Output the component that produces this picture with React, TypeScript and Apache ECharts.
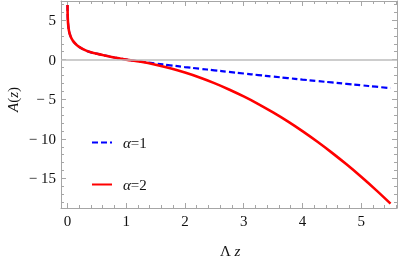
import React, { useEffect, useRef } from "react";
import * as echarts from "echarts";

// z values (Λz) sampled along the curves
const zSmall = [0.001, 0.002, 0.005, 0.01, 0.02, 0.035, 0.05, 0.075, 0.1, 0.15, 0.2, 0.3, 0.4, 0.5, 0.6, 0.7, 0.8, 0.9, 1.0];
const aSmall = [6.9, 6.2, 5.3, 4.6, 3.9, 3.35, 3.0, 2.6, 2.3, 1.9, 1.6, 1.2, 0.92, 0.75, 0.58, 0.42, 0.27, 0.13, 0.0];
const zLarge = [1.25, 1.5, 1.75, 2.0, 2.25, 2.5, 2.75, 3.0, 3.25, 3.5, 3.75, 4.0, 4.25, 4.5, 4.75, 5.0, 5.25, 5.5];
const alpha1Large = [-0.25, -0.49, -0.72, -0.94, -1.15, -1.35, -1.55, -1.75, -1.95, -2.14, -2.33, -2.52, -2.7, -2.88, -3.06, -3.24, -3.42, -3.6];
const alpha2Large = [-0.28, -0.65, -1.1, -1.64, -2.26, -2.97, -3.77, -4.65, -5.61, -6.67, -7.8, -9.03, -10.34, -11.74, -13.22, -14.79, -16.44, -18.18];

const seriesNames = ["α=1", "α=2"];
const xMajorTicks = [0, 1, 2, 3, 4, 5];
const yMajorTicks = [-15, -10, -5, 0, 5];
const xMinorTicks: number[] = [];
for (let i = 1; i <= 28; i++) if (i % 5 !== 0) xMinorTicks.push(+(i * 0.2).toFixed(1));
const yMinorTicks: number[] = [];
for (let v = -18; v <= 7; v++) if (v % 5 !== 0) yMinorTicks.push(v);

const X_MIN = -0.11, X_MAX = 5.61, Y_MIN = -18.73, Y_MAX = 7.4;
const FRAME = "#a6a6a6";
const SERIF = "Liberation Serif";

export default function App() {
  const ref = useRef<HTMLDivElement>(null);
  useEffect(() => {
    if (!ref.current) return;
    const chart = echarts.init(ref.current, undefined, { renderer: "svg" });
    const zs = [...zSmall, ...zLarge];
    const d1 = zs.map((z, i) => [z, i < aSmall.length ? aSmall[i] : alpha1Large[i - aSmall.length]]);
    const d2 = zs.map((z, i) => [z, i < aSmall.length ? aSmall[i] : alpha2Large[i - aSmall.length]]);

    const mkX = (position: string, ticks: number[], len: number, labels: boolean, line: boolean) => ({
      type: "value", min: X_MIN, max: X_MAX, position,
      axisLine: { show: line, onZero: false, lineStyle: { color: FRAME, width: 1 } },
      axisTick: { show: true, inside: true, length: len, customValues: ticks, lineStyle: { color: FRAME, width: 1 } },
      axisLabel: labels
        ? { show: true, customValues: ticks, fontFamily: SERIF, fontSize: 15, color: "#111", margin: 5 }
        : { show: false },
      splitLine: { show: false },
    });
    const mkY = (position: string, ticks: number[], len: number, labels: boolean, line: boolean) => ({
      type: "value", min: Y_MIN, max: Y_MAX, position,
      axisLine: { show: line, onZero: false, lineStyle: { color: FRAME, width: 1 } },
      axisTick: { show: true, inside: true, length: len, customValues: ticks, lineStyle: { color: FRAME, width: 1 } },
      axisLabel: labels
        ? {
            show: true, customValues: ticks, fontFamily: SERIF, fontSize: 15, color: "#111", margin: 5,
            formatter: (v: number) => (v < 0 ? "\u2212 " + Math.abs(v) : String(v)),
          }
        : { show: false },
      splitLine: { show: false },
    });

    chart.setOption({
      animation: false,
      grid: { left: 61, right: 1, top: 1, bottom: 51, containLabel: false },
      xAxis: [
        mkX("bottom", xMajorTicks, 5, true, true),
        mkX("bottom", xMinorTicks, 3, false, false),
        mkX("top", xMajorTicks, 5, false, true),
        mkX("top", xMinorTicks, 3, false, false),
      ],
      yAxis: [
        mkY("left", yMajorTicks, 5, true, true),
        mkY("left", yMinorTicks, 3, false, false),
        mkY("right", yMajorTicks, 5, false, true),
        mkY("right", yMinorTicks, 3, false, false),
      ],
      legend: {
        data: seriesNames,
        orient: "vertical",
        left: 86,
        top: 130,
        itemWidth: 20,
        itemHeight: 14,
        itemGap: 27,
        itemStyle: { opacity: 0 },
        formatter: (n: string) => "{it|α}" + n.slice(1),
        textStyle: {
          fontFamily: SERIF, fontSize: 15, color: "#111", padding: [0, 0, 0, 6],
          rich: { it: { fontFamily: SERIF, fontStyle: "italic", fontSize: 15, color: "#111" } },
        },
      },
      graphic: [
        {
          type: "text", x: 12.5, y: 99.5, rotation: Math.PI / 2,
          style: {
            text: "{it|A}({it|z})", align: "center", verticalAlign: "middle",
            fontFamily: SERIF, fontSize: 15, fill: "#111",
            rich: { it: { fontFamily: SERIF, fontStyle: "italic", fontSize: 15, fill: "#111" } },
          },
        },
        {
          type: "text", x: 230, y: 251,
          style: {
            text: "Λ {it|z}", align: "center", verticalAlign: "middle",
            fontFamily: SERIF, fontSize: 15, fill: "#111",
            rich: { it: { fontFamily: SERIF, fontStyle: "italic", fontSize: 15, fill: "#111" } },
          },
        },
      ],
      series: [
        {
          name: seriesNames[0], type: "line", data: d1, showSymbol: false, symbol: "none", smooth: 0.4,
          lineStyle: { color: "#0000ff", width: 2.2, type: [6, 3] }, itemStyle: { color: "#0000ff" },
          markLine: {
            silent: true, symbol: "none", label: { show: false },
            lineStyle: { color: "#bdbdbd", width: 1.5, type: "solid" },
            data: [{ yAxis: 0 }],
          },
          z: 3,
        },
        {
          name: seriesNames[1], type: "line", data: d2, showSymbol: false, symbol: "none", smooth: 0.4,
          lineStyle: { color: "#ff0000", width: 2.6 }, itemStyle: { color: "#ff0000" },
          z: 4,
        },
      ],
    });
    return () => chart.dispose();
  }, []);
  return <div ref={ref} style={{ position: "fixed", left: 0, top: 0, width: 398, height: 259 }} />;
}
